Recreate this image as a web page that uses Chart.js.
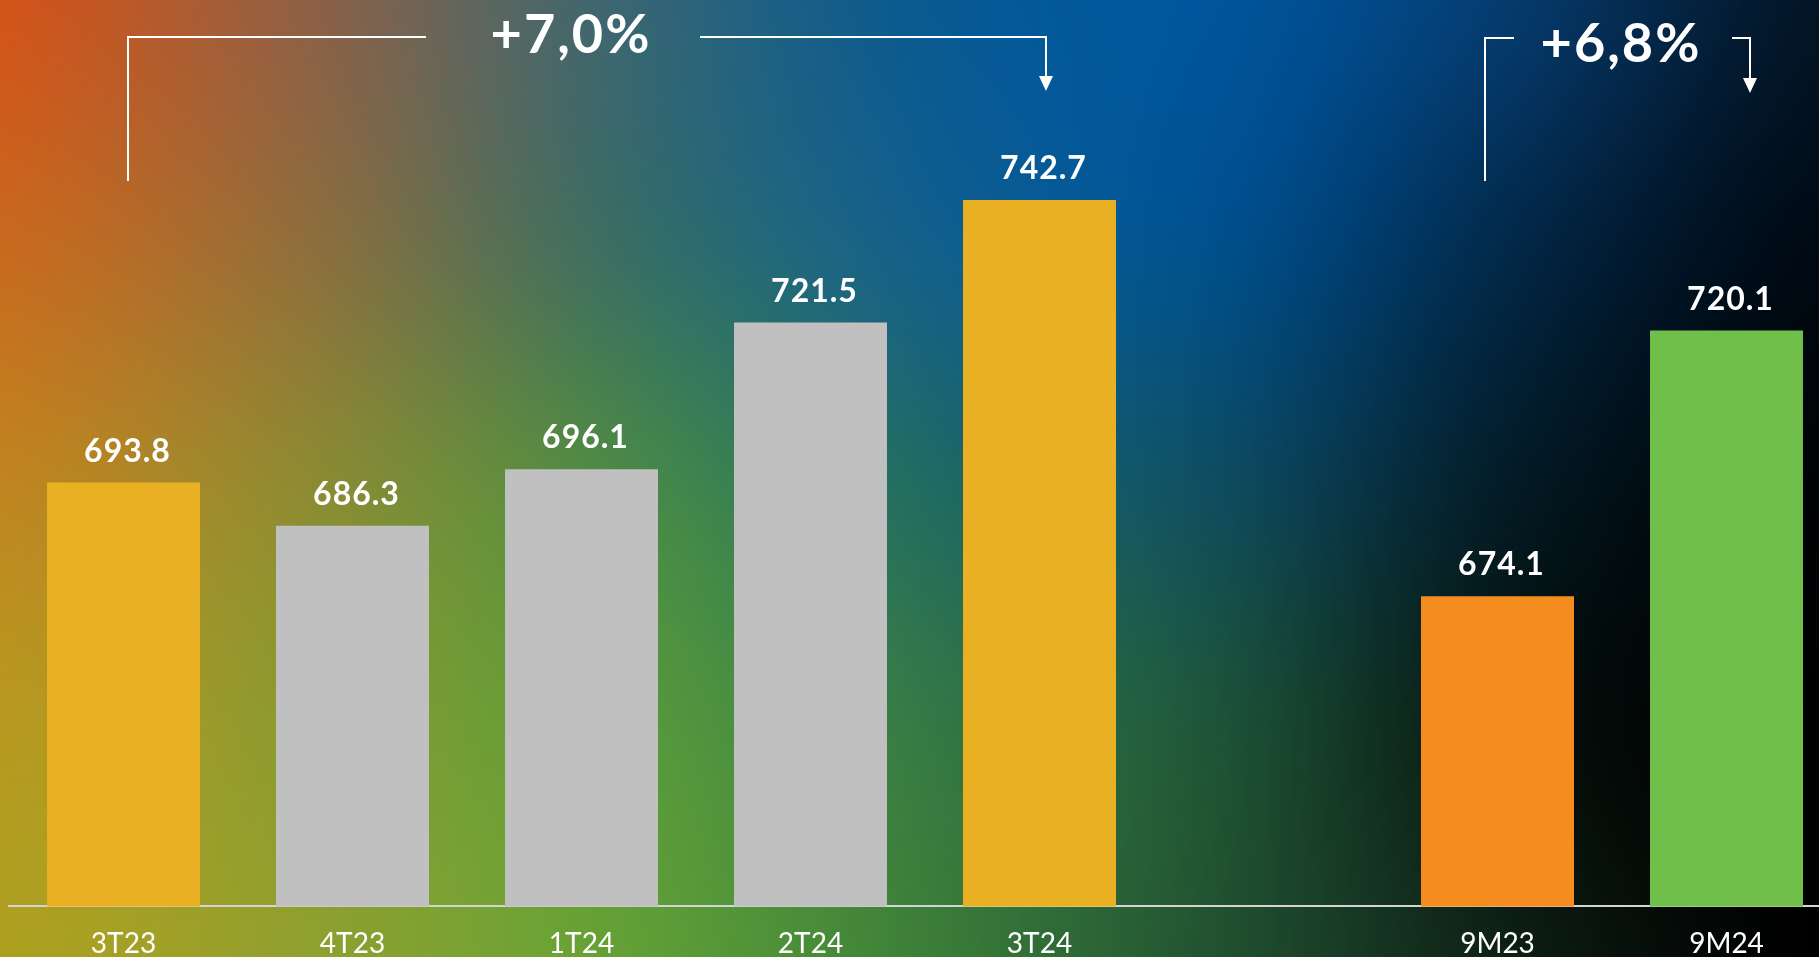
<!DOCTYPE html>
<html>
<head>
<meta charset="utf-8">
<script src="https://cdn.jsdelivr.net/npm/chart.js@4.4.1/dist/chart.umd.min.js"></script>
<style>
  html, body { margin: 0; padding: 0; overflow: hidden; background: #000; }
  #wrap { width: 1841px; height: 982px; }
</style>
</head>
<body>
<div id="wrap"><canvas id="chart" width="1841" height="982"></canvas></div>
<script>
// data
const categories = ['3T23', '4T23', '1T24', '2T24', '3T24', '', '9M23', '9M24'];
const values = [693.8, 686.3, 696.1, 721.5, 742.7, null, 674.1, 720.1];
const growthLabels = ['+7,0%', '+6,8%'];

const barColors = ['#EAB024', '#C0C0C0', '#C0C0C0', '#C0C0C0', '#EAB024', '#C0C0C0', '#F58C20', '#70BF4B'];

// background colour mesh (7 columns x 5 rows, evenly spread over the page)
const bgGrid = [
    ['#D2541A', '#8E6045', '#3E6670', '#0B5A8F', '#00559B', '#053A6C', '#031526'],
    ['#C8691E', '#8F6E3C', '#3C6E62', '#14608A', '#00508C', '#022848', '#000A14'],
    ['#C08420', '#8E8A32', '#4E8A45', '#226C62', '#0E4D62', '#031B26', '#000305'],
    ['#B89820', '#8A9A30', '#5C9A3A', '#367A46', '#1D5439', '#06140F', '#000000'],
    ['#ADA020', '#90A02E', '#65A035', '#3E8038', '#225230', '#0D1F14', '#000000']
];

function hexToRgb(hex) {
    return [parseInt(hex.slice(1, 3), 16), parseInt(hex.slice(3, 5), 16), parseInt(hex.slice(5, 7), 16)];
}

function cr(p0, p1, p2, p3, t) {
    return 0.5 * ((2 * p1) + (-p0 + p2) * t + (2 * p0 - 5 * p1 + 4 * p2 - p3) * t * t + (-p0 + 3 * p1 - 3 * p2 + p3) * t * t * t);
}

// smooth mesh gradient painted on a small canvas, stretched later
function makeBackground(w, h) {
    const c = document.createElement('canvas');
    c.width = w; c.height = h;
    const g = c.getContext('2d');
    const img = g.createImageData(w, h);
    const grid = bgGrid.map(r => r.map(hexToRgb));
    const nr = grid.length, nc = grid[0].length;
    const at = (r, col, ch) => grid[Math.max(0, Math.min(nr - 1, r))][Math.max(0, Math.min(nc - 1, col))][ch];

    for (let y = 0; y < h; y++) {
        const v = y / (h - 1) * (nr - 1);
        const r = Math.min(Math.floor(v), nr - 2);
        const tv = v - r;
        for (let x = 0; x < w; x++) {
            const u = x / (w - 1) * (nc - 1);
            const col = Math.min(Math.floor(u), nc - 2);
            const tu = u - col;
            const idx = (y * w + x) * 4;
            for (let ch = 0; ch < 3; ch++) {
                const rowVals = [];
                for (let k = -1; k <= 2; k++) {
                    rowVals.push(cr(at(r + k, col - 1, ch), at(r + k, col, ch), at(r + k, col + 1, ch), at(r + k, col + 2, ch), tu));
                }
                const val = cr(rowVals[0], rowVals[1], rowVals[2], rowVals[3], tv);
                img.data[idx + ch] = Math.max(0, Math.min(255, val));
            }
            img.data[idx + 3] = 255;
        }
    }
    g.putImageData(img, 0, 0);
    return c;
}

const bgImage = makeBackground(455, 240);

const backgroundPlugin = {
    id: 'meshBackground',
    beforeDraw(chart) {
        const ctx = chart.ctx;
        ctx.save();
        ctx.imageSmoothingEnabled = true;
        ctx.imageSmoothingQuality = 'high';
        ctx.drawImage(bgImage, 0, 0, 1819, 957);
        ctx.restore();
    }
};

// numbers above each bar
const valueLabels = {
    id: 'valueLabels',
    afterDatasetsDraw(chart) {
        const ctx = chart.ctx;
        const meta = chart.getDatasetMeta(0);
        ctx.save();
        ctx.font = 'bold 32px Lato';
        ctx.letterSpacing = '1px';
        ctx.fillStyle = '#ffffff';
        ctx.textAlign = 'center';
        ctx.textBaseline = 'alphabetic';
        meta.data.forEach((bar, i) => {
            if (values[i] == null) return;
            ctx.fillText(values[i].toFixed(1), bar.x + 4, bar.y - 21);
        });
        ctx.restore();
    }
};

function drawArrowHead(ctx, x, tipY) {
    ctx.beginPath();
    ctx.moveTo(x - 7, tipY - 15);
    ctx.lineTo(x + 7, tipY - 15);
    ctx.lineTo(x, tipY);
    ctx.closePath();
    ctx.fill();
}

// growth brackets on top
const growthBrackets = {
    id: 'growthBrackets',
    afterDraw(chart) {
        const ctx = chart.ctx;
        const xs = chart.scales.x;
        const brackets = [
            { from: 0, to: 4, text: growthLabels[0], dxFrom: 4.5, dxTo: 6.5, textX: 571, textY: 53, gapL: 145, gapR: 129, lineY: 37, tipY: 91 },
            { from: 6, to: 7, text: growthLabels[1], dxFrom: -13, dxTo: 23.5, textX: 1621, textY: 62, gapL: 107, gapR: 111, lineY: 38, tipY: 93 }
        ];
        ctx.save();
        ctx.strokeStyle = '#ffffff';
        ctx.fillStyle = '#ffffff';
        ctx.lineWidth = 2;
        brackets.forEach(b => {
            const x1 = Math.round(xs.getPixelForValue(b.from) + b.dxFrom);
            const x2 = Math.round(xs.getPixelForValue(b.to) + b.dxTo);
            ctx.beginPath();
            ctx.moveTo(x1, 181);
            ctx.lineTo(x1, b.lineY);
            ctx.lineTo(b.textX - b.gapL, b.lineY);
            ctx.moveTo(b.textX + b.gapR, b.lineY);
            ctx.lineTo(x2, b.lineY);
            ctx.lineTo(x2, b.tipY - 14);
            ctx.stroke();
            drawArrowHead(ctx, x2, b.tipY);

            ctx.font = 'bold 54px Lato';
            ctx.letterSpacing = '2px';
            ctx.textAlign = 'center';
            ctx.textBaseline = 'alphabetic';
            ctx.fillText(b.text, b.textX, b.textY);
        });
        ctx.restore();
    }
};

const ctx = document.getElementById('chart').getContext('2d');
const myChart = new Chart(ctx, {
    type: 'bar',
    data: {
        labels: categories,
        datasets: [{
            data: values,
            backgroundColor: barColors,
            borderWidth: 0,
            barPercentage: 0.668,
            categoryPercentage: 1
        }]
    },
    options: {
        responsive: false,
        devicePixelRatio: 1,
        animation: false,
        layout: { padding: { left: 9, right: 0, top: 0, bottom: 0 } },
        plugins: {
            legend: { display: false },
            tooltip: { enabled: false }
        },
        scales: {
            x: {
                grid: { display: false, drawTicks: false },
                border: { display: true, color: '#d4d4d4', width: 2 },
                ticks: {
                    color: '#ffffff',
                    font: { family: 'Lato', size: 28 },
                    padding: 21,
                    autoSkip: false,
                    maxRotation: 0
                }
            },
            y: {
                display: false,
                min: 620.4,
                max: 777.35
            }
        }
    },
    plugins: [backgroundPlugin, valueLabels, growthBrackets]
});
</script>
</body>
</html>
